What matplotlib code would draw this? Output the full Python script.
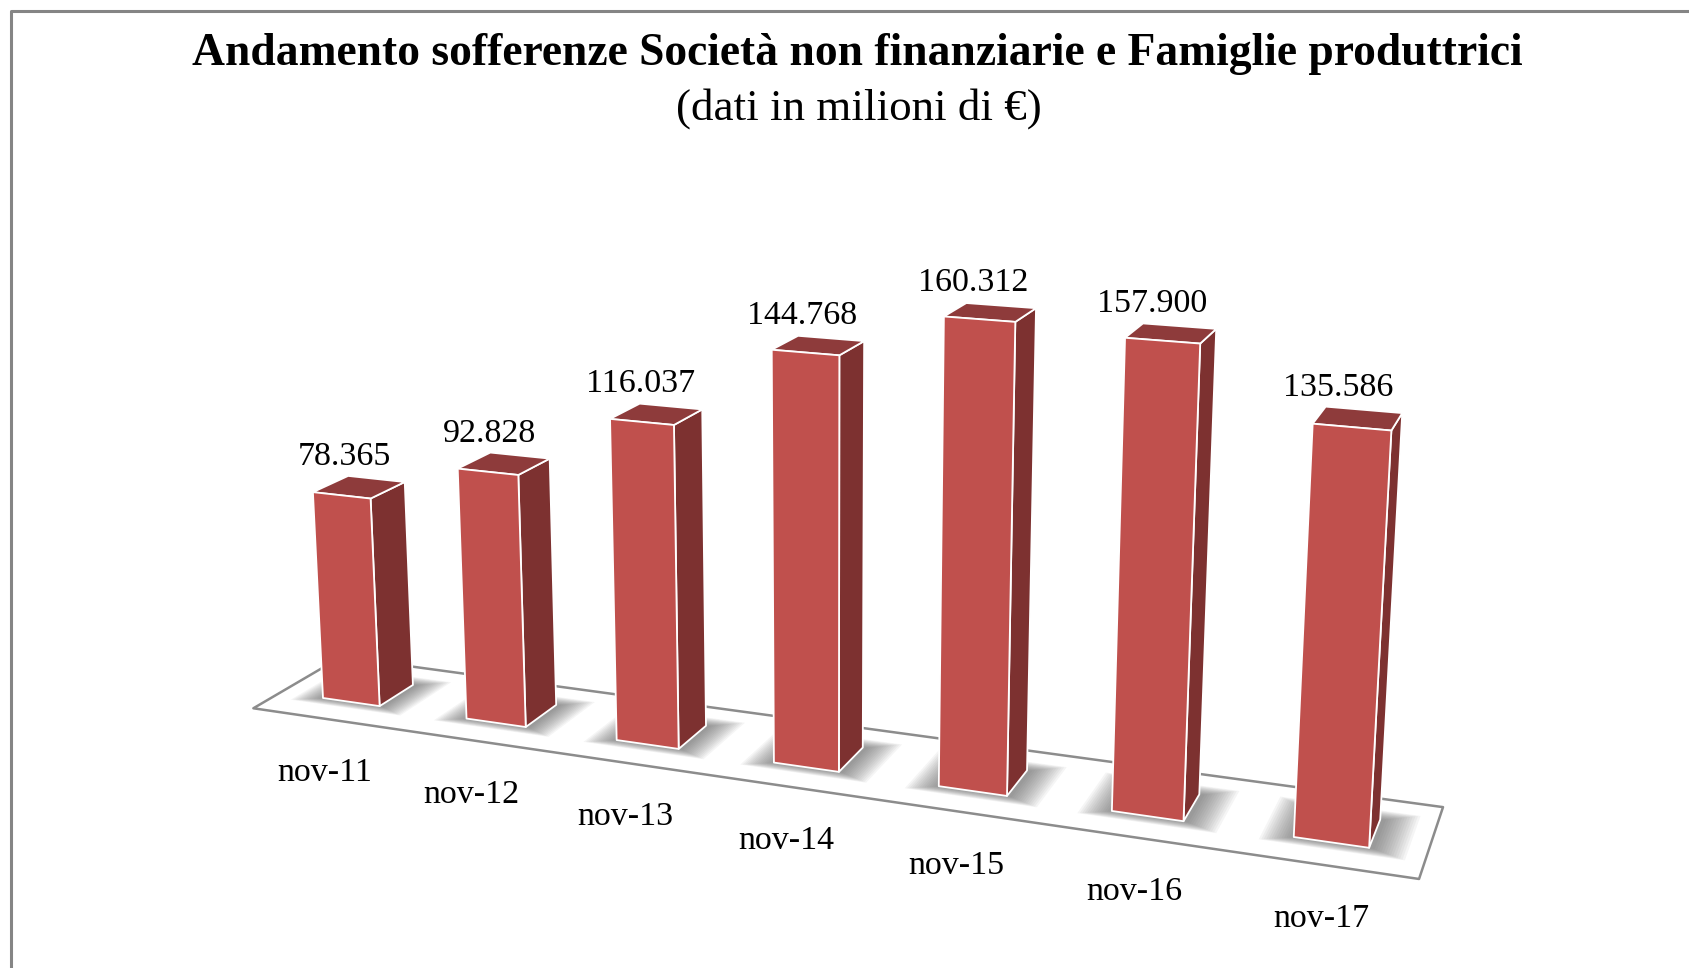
import numpy as np
import matplotlib
matplotlib.use("Agg")
import matplotlib.pyplot as plt

periods = ["nov-11", "nov-12", "nov-13", "nov-14", "nov-15", "nov-16", "nov-17"]
sofferenze = [78365, 92828, 116037, 144768, 160312, 157900, 135586]

title = "Andamento sofferenze Società non finanziarie e Famiglie produttrici"
subtitle = "(dati in milioni di €)"

FRONT = "#C0504D"
SIDE = "#7D3130"
TOP = "#8E3B3B"
FRAME = "#858585"
SERIF = "Liberation Serif"

BAR_W = 0.4    # along the category axis
BAR_D = 1.0    # depth


# Camera of the 3D chart: x = category, y = depth, z = value / 100000
def project(x, y, z):
    w = 1 - 0.0221 * x + 0.02426 * y - 0.025 * z
    u = (323 + 133.2 * x + 43.0 * y - 20.7 * z) / w
    v = (698 + 4.67 * x - 4.37 * y - 275 * z) / w
    return u, v


def face(ax, pts, color, zorder, edge="white", lw=1.3):
    xy = [project(*p) for p in pts]
    ax.fill(*zip(*xy), facecolor=color, edgecolor=edge, linewidth=lw,
            joinstyle="round", zorder=zorder)


fig = plt.figure(figsize=(16.9, 9.68), dpi=100)
ax = fig.add_axes([0, 0, 1, 1])
ax.set_xlim(0, 1690)
ax.set_ylim(968, 0)
ax.axis("off")

# Outer frame, only left and top are in the crop
ax.plot([11, 11, 1690], [968, 10.5, 10.5], color=FRAME, lw=2.2, zorder=1)

ax.text(857.5, 65, title, family=SERIF, fontweight="bold", fontsize=32.8,
        ha="center", va="baseline", zorder=6)
ax.text(859, 120, subtitle, family=SERIF, fontsize=32.4,
        ha="center", va="baseline", zorder=6)

# Floor plate
n = len(periods)
x0, x1 = -0.3, n - 0.3
y0, y1 = -0.76, 1.74
face(ax, [(x0, y0, 0), (x1, y0, 0), (x1, y1, 0), (x0, y1, 0)],
     "white", 2, edge="#8C8C8C", lw=1.8)

for i, (lab, val) in enumerate(zip(periods, sofferenze)):
    z = val / 100000
    xa, xb = i, i + BAR_W

    # Soft shadow on the floor, stacked translucent rectangles
    steps = 14
    for s in range(steps):
        t = s / (steps - 1)
        sx0 = xa - 0.01 - 0.16 * (1 - t)
        sx1 = xb + 0.03 + 0.17 * (1 - t)
        sy0 = -0.02 - 0.22 * (1 - t)
        sy1 = 1.02 + 0.30 * (1 - t)
        pts = [project(sx0, sy0, 0), project(sx1, sy0, 0),
               project(sx1, sy1, 0), project(sx0, sy1, 0)]
        ax.fill(*zip(*pts), facecolor="#555555", edgecolor="none",
                alpha=0.06, zorder=3)

    # Bar faces
    face(ax, [(xb, 0, 0), (xb, BAR_D, 0), (xb, BAR_D, z), (xb, 0, z)], SIDE, 4 + i * 0.1)
    face(ax, [(xa, 0, z), (xb, 0, z), (xb, BAR_D, z), (xa, BAR_D, z)], TOP, 4 + i * 0.1)
    face(ax, [(xa, 0, 0), (xb, 0, 0), (xb, 0, z), (xa, 0, z)], FRONT, 4.05 + i * 0.1)

    # Value above the bar
    tx, ty = project(i + BAR_W / 2 - 0.1, BAR_D / 2, z)
    ax.text(tx, ty - 28.5, f"{val:,}".replace(",", "."), family=SERIF,
            fontsize=24.5, ha="center", va="center", zorder=3.5)

    # Category below the plate
    cx, cy = project(i + BAR_W / 2, y0, 0)
    ax.text(cx, cy + 54.5, lab, family=SERIF, fontsize=24.5,
            ha="center", va="center", zorder=6)

fig.savefig("out.png", dpi=100, facecolor="white")
